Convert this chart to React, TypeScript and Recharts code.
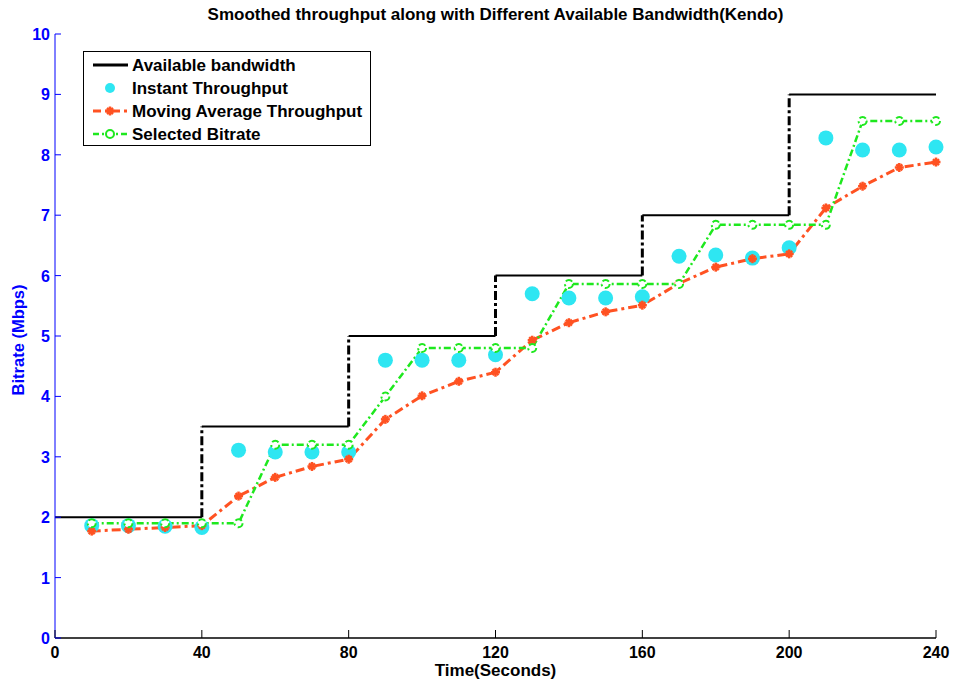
import { Line, LineChart, XAxis, YAxis } from "recharts";

const times = [10, 20, 30, 40, 50, 60, 70, 80, 90, 100, 110, 120, 130, 140, 150, 160, 170, 180, 190, 200, 210, 220, 230, 240];
const instantThroughput = [1.86, 1.86, 1.85, 1.83, 3.11, 3.08, 3.08, 3.08, 4.6, 4.6, 4.6, 4.69, 5.7, 5.63, 5.63, 5.65, 6.32, 6.34, 6.29, 6.46, 8.28, 8.08, 8.08, 8.13];
const movingAverage = [1.77, 1.8, 1.83, 1.86, 2.35, 2.66, 2.84, 2.96, 3.62, 4.01, 4.25, 4.4, 4.93, 5.22, 5.4, 5.51, 5.87, 6.14, 6.28, 6.36, 7.12, 7.48, 7.79, 7.88];
const selectedBitrate = [1.9, 1.9, 1.9, 1.9, 1.9, 3.2, 3.2, 3.2, 4.0, 4.8, 4.8, 4.8, 4.8, 5.86, 5.86, 5.86, 5.86, 6.84, 6.84, 6.84, 6.84, 8.56, 8.56, 8.56];

const bandwidthEdges = [0, 40, 80, 120, 160, 200, 240];
const bandwidthLevels = [2, 3.5, 5, 6, 7, 9];

const xTicks = [0, 40, 80, 120, 160, 200, 240];
const yTicks = [0, 1, 2, 3, 4, 5, 6, 7, 8, 9, 10];

const FONT = "'Liberation Sans', Arial, sans-serif";
const CYAN = "#2ee6f2";
const ORANGE = "#ff5222";
const GREEN = "#1ee81e";

const rows = times.map((t, i) => ({
  t,
  instant: instantThroughput[i],
  avg: movingAverage[i],
  selected: selectedBitrate[i],
}));

// solid horizontal parts of the bandwidth step
const bwFlat = bandwidthLevels.flatMap((v, i) => [
  { t: bandwidthEdges[i], bw: v },
  { t: bandwidthEdges[i + 1], bw: v },
  { t: bandwidthEdges[i + 1], bw: null },
]);

// dash-dot vertical jumps
const bwJump = bandwidthLevels.slice(1).flatMap((v, i) => [
  { t: bandwidthEdges[i + 1], bw: bandwidthLevels[i] },
  { t: bandwidthEdges[i + 1], bw: v },
  { t: bandwidthEdges[i + 1], bw: null },
]);

function XTick(props: any) {
  const { x, y, payload } = props;
  return (
    <g>
      <line x1={x} y1={y} x2={x} y2={y - 8} stroke="#000" strokeWidth={1} />
      <text x={x} y={y + 20} textAnchor="middle" fontFamily={FONT} fontWeight="bold" fontSize={16} fill="#000">
        {payload.value}
      </text>
    </g>
  );
}

function YTick(props: any) {
  const { x, y, payload } = props;
  return (
    <g>
      <line x1={x} y1={y} x2={x + 6} y2={y} stroke="#0000ff" strokeWidth={1} />
      <text x={x - 5} y={y + 6} textAnchor="end" fontFamily={FONT} fontWeight="bold" fontSize={16} fill="#0000ff">
        {payload.value}
      </text>
    </g>
  );
}

function StarDot(props: any) {
  const { cx, cy } = props;
  if (cx == null || cy == null) return null;
  const r = 4.5;
  return (
    <g stroke={ORANGE} strokeWidth={2.5}>
      <line x1={cx - r} y1={cy} x2={cx + r} y2={cy} />
      <line x1={cx} y1={cy - r} x2={cx} y2={cy + r} />
      <line x1={cx - 3} y1={cy - 3} x2={cx + 3} y2={cy + 3} />
      <line x1={cx - 3} y1={cy + 3} x2={cx + 3} y2={cy - 3} />
    </g>
  );
}

function LegendBox() {
  const items = ["Available bandwidth", "Instant Throughput", "Moving Average Throughput", "Selected Bitrate"];
  return (
    <div
      style={{
        position: "absolute",
        left: 83,
        top: 51,
        width: 286,
        height: 93,
        border: "1px solid #000",
        background: "#fff",
      }}
    >
      <svg width={286} height={93} style={{ position: "absolute", left: 0, top: 0 }}>
        <line x1={9} y1={13} x2={44} y2={13} stroke="#000" strokeWidth={3} />
        <circle cx={26} cy={36} r={5} fill={CYAN} />
        <line x1={9} y1={59} x2={44} y2={59} stroke={ORANGE} strokeWidth={3} strokeDasharray="8 4 3 4" />
        <StarDot cx={26} cy={59} />
        <line x1={9} y1={82} x2={44} y2={82} stroke={GREEN} strokeWidth={2.5} strokeDasharray="6 3 2 3" />
        <circle cx={26} cy={82} r={4} fill="#fff" stroke={GREEN} strokeWidth={2} />
        {items.map((label, i) => (
          <text key={label} x={48} y={19 + i * 23} fontFamily={FONT} fontWeight="bold" fontSize={17} fill="#000">
            {label}
          </text>
        ))}
      </svg>
    </div>
  );
}

export default function App() {
  return (
    <div style={{ position: "absolute", left: 0, top: 0, width: 953, height: 685, background: "#fff" }}>
      <LineChart width={953} height={685} data={rows} margin={{ top: 34, right: 17, bottom: 0, left: 0 }}>
        <XAxis
          dataKey="t"
          type="number"
          domain={[0, 240]}
          ticks={xTicks}
          allowDuplicatedCategory={false}
          height={47}
          tickSize={0}
          tickMargin={0}
          tickLine={false}
          tick={<XTick />}
          axisLine={{ stroke: "#000", strokeWidth: 1.5 }}
        />
        <YAxis
          type="number"
          domain={[0, 10]}
          ticks={yTicks}
          width={55}
          tickSize={0}
          tickMargin={0}
          tickLine={false}
          tick={<YTick />}
          axisLine={{ stroke: "#0000ff", strokeWidth: 1 }}
        />
        <Line data={bwFlat} dataKey="bw" stroke="#000" strokeWidth={2} dot={false} isAnimationActive={false} connectNulls={false} />
        <Line
          data={bwJump}
          dataKey="bw"
          stroke="#000"
          strokeWidth={3}
          strokeDasharray="9 3 3 3"
          dot={false}
          isAnimationActive={false}
          connectNulls={false}
        />
        <Line
          dataKey="instant"
          stroke="none"
          dot={{ r: 7.5, fill: CYAN, stroke: "none" }}
          activeDot={false}
          isAnimationActive={false}
        />
        <Line
          dataKey="avg"
          stroke={ORANGE}
          strokeWidth={3}
          strokeDasharray="9 4 3 4"
          dot={<StarDot />}
          activeDot={false}
          isAnimationActive={false}
        />
        <Line
          dataKey="selected"
          stroke={GREEN}
          strokeWidth={2.5}
          strokeDasharray="7 3 2 3"
          dot={{ r: 4, fill: "#fff", stroke: GREEN, strokeWidth: 2 }}
          activeDot={false}
          isAnimationActive={false}
        />
      </LineChart>
      <div
        style={{
          position: "absolute",
          left: 0,
          width: 991,
          top: 5,
          textAlign: "center",
          fontFamily: FONT,
          fontWeight: "bold",
          fontSize: 17,
          color: "#000",
        }}
      >
        Smoothed throughput along with Different Available Bandwidth(Kendo)
      </div>
      <div
        style={{
          position: "absolute",
          left: 0,
          width: 991,
          top: 661,
          textAlign: "center",
          fontFamily: FONT,
          fontWeight: "bold",
          fontSize: 17,
          color: "#000",
        }}
      >
        Time(Seconds)
      </div>
      <div
        style={{
          position: "absolute",
          left: 18,
          top: 340,
          transform: "translate(-50%, -50%) rotate(-90deg)",
          whiteSpace: "nowrap",
          fontFamily: FONT,
          fontWeight: "bold",
          fontSize: 16.5,
          color: "#0000ff",
        }}
      >
        Bitrate (Mbps)
      </div>
      <LegendBox />
    </div>
  );
}
